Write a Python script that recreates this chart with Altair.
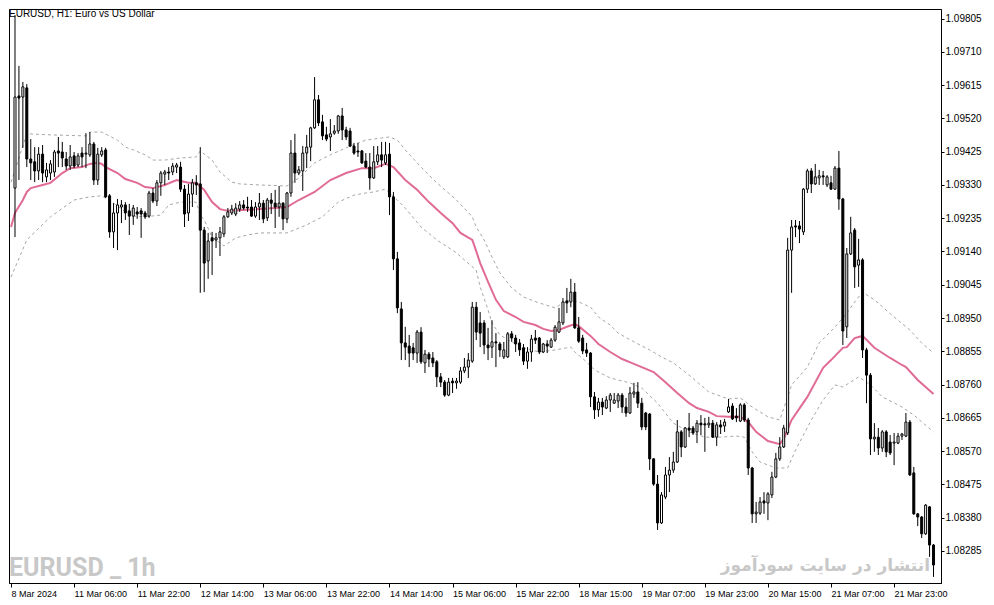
import json
import altair as alt
import pandas as pd

# ---------------- data (hourly EURUSD candles, bar index 1..234) ----------------
bar_index = list(range(1, 235))

open_ = [1.09321,1.09584,1.09581,1.09607,1.09404,1.09396,1.09370,1.09418,1.09353,1.09364,
1.09367,1.09427,1.09424,1.09404,1.09384,1.09413,1.09387,1.09421,1.09418,1.09416,
1.09447,1.09344,1.09416,1.09430,1.09299,1.09196,1.09250,1.09267,1.09273,1.09256,
1.09241,1.09253,1.09256,1.09250,1.09241,1.09307,1.09284,1.09336,1.09361,1.09367,
1.09367,1.09381,1.09381,1.09318,1.09250,1.09304,1.09336,1.09333,1.09201,1.09113,
1.09179,1.09173,1.09179,1.09190,1.09239,1.09250,1.09247,1.09261,1.09273,1.09267,
1.09267,1.09241,1.09267,1.09278,1.09236,1.09287,1.09278,1.09267,1.09278,1.09233,
1.09307,1.09421,1.09364,1.09370,1.09421,1.09438,1.09493,1.09573,1.09510,1.09473,
1.09467,1.09478,1.09484,1.09527,1.09487,1.09484,1.09441,1.09427,1.09427,1.09398,
1.09381,1.09350,1.09396,1.09416,1.09393,1.09418,1.09296,1.09119,1.08976,1.08879,
1.08870,1.08865,1.08850,1.08910,1.08822,1.08847,1.08836,1.08825,1.08782,1.08767,
1.08730,1.08770,1.08765,1.08767,1.08799,1.08810,1.08827,1.08981,1.08936,1.08936,
1.08873,1.08867,1.08882,1.08876,1.08839,1.08839,1.08905,1.08893,1.08879,1.08865,
1.08827,1.08853,1.08893,1.08893,1.08853,1.08876,1.08867,1.08887,1.08910,1.08936,
1.08999,1.08996,1.09024,1.08922,1.08893,1.08859,1.08850,1.08725,1.08688,1.08710,
1.08693,1.08716,1.08707,1.08713,1.08730,1.08696,1.08679,1.08733,1.08739,1.08707,
1.08679,1.08676,1.08548,1.08476,1.08365,1.08439,1.08502,1.08516,1.08539,1.08625,
1.08582,1.08636,1.08636,1.08625,1.08650,1.08648,1.08645,1.08650,1.08610,1.08645,
1.08642,1.08682,1.08699,1.08670,1.08656,1.08702,1.08659,1.08522,1.08391,1.08393,
1.08428,1.08422,1.08445,1.08496,1.08548,1.08582,1.08622,1.09144,1.09213,1.09213,
1.09196,1.09318,1.09370,1.09333,1.09350,1.09356,1.09330,1.09336,1.09318,1.09378,
1.09290,1.08925,1.09133,1.09201,1.09101,1.09116,1.08859,1.08787,1.08605,1.08610,
1.08579,1.08625,1.08596,1.08593,1.08593,1.08613,1.08613,1.08653,1.08508,1.08391,
1.08382,1.08334,1.08411,1.08302]

high = [1.09815,1.09670,1.09624,1.09618,1.09461,1.09438,1.09438,1.09444,1.09393,1.09401,
1.09430,1.09467,1.09453,1.09424,1.09444,1.09424,1.09421,1.09438,1.09478,1.09481,
1.09453,1.09436,1.09438,1.09436,1.09304,1.09278,1.09290,1.09287,1.09281,1.09276,
1.09273,1.09267,1.09264,1.09256,1.09313,1.09321,1.09344,1.09370,1.09373,1.09381,
1.09393,1.09393,1.09396,1.09330,1.09333,1.09347,1.09358,1.09438,1.09210,1.09193,
1.09196,1.09193,1.09210,1.09244,1.09264,1.09273,1.09278,1.09284,1.09287,1.09296,
1.09287,1.09281,1.09307,1.09287,1.09293,1.09307,1.09316,1.09327,1.09281,1.09310,
1.09458,1.09476,1.09384,1.09441,1.09473,1.09496,1.09638,1.09587,1.09530,1.09496,
1.09518,1.09501,1.09530,1.09550,1.09496,1.09493,1.09450,1.09450,1.09430,1.09421,
1.09421,1.09441,1.09441,1.09453,1.09453,1.09450,1.09310,1.09139,1.08996,1.08925,
1.08902,1.08879,1.08916,1.08924,1.08859,1.08853,1.08853,1.08830,1.08793,1.08773,
1.08779,1.08779,1.08779,1.08810,1.08836,1.08850,1.08996,1.08996,1.08967,1.08944,
1.08922,1.08944,1.08907,1.08882,1.08882,1.08910,1.08913,1.08902,1.08890,1.08876,
1.08867,1.08902,1.08916,1.08896,1.08879,1.08887,1.08893,1.08930,1.08979,1.09007,
1.09036,1.09062,1.09050,1.08953,1.08902,1.08879,1.08853,1.08739,1.08722,1.08722,
1.08727,1.08736,1.08736,1.08736,1.08736,1.08722,1.08753,1.08765,1.08767,1.08722,
1.08682,1.08679,1.08550,1.08502,1.08453,1.08525,1.08553,1.08568,1.08659,1.08630,
1.08639,1.08679,1.08642,1.08659,1.08673,1.08665,1.08668,1.08659,1.08653,1.08659,
1.08662,1.08719,1.08707,1.08693,1.08707,1.08707,1.08665,1.08525,1.08425,1.08439,
1.08453,1.08453,1.08511,1.08565,1.08610,1.08645,1.09179,1.09230,1.09230,1.09227,
1.09321,1.09376,1.09378,1.09390,1.09373,1.09370,1.09358,1.09356,1.09384,1.09427,
1.09293,1.09150,1.09239,1.09207,1.09176,1.09121,1.08865,1.08793,1.08650,1.08636,
1.08630,1.08630,1.08616,1.08622,1.08622,1.08622,1.08679,1.08659,1.08525,1.08393,
1.08385,1.08419,1.08413,1.08305]

low = [1.09181,1.09344,1.09436,1.09381,1.09344,1.09338,1.09344,1.09338,1.09338,1.09344,
1.09353,1.09381,1.09381,1.09373,1.09373,1.09378,1.09381,1.09381,1.09378,1.09410,
1.09330,1.09330,1.09410,1.09293,1.09179,1.09150,1.09144,1.09221,1.09230,1.09187,
1.09216,1.09233,1.09179,1.09233,1.09236,1.09278,1.09270,1.09299,1.09330,1.09344,
1.09358,1.09364,1.09310,1.09210,1.09227,1.09267,1.09301,1.09022,1.09024,1.09062,
1.09073,1.09150,1.09127,1.09181,1.09236,1.09244,1.09241,1.09253,1.09259,1.09253,
1.09239,1.09236,1.09230,1.09221,1.09227,1.09247,1.09207,1.09239,1.09201,1.09221,
1.09296,1.09336,1.09358,1.09313,1.09378,1.09398,1.09490,1.09498,1.09458,1.09455,
1.09427,1.09473,1.09476,1.09458,1.09458,1.09438,1.09416,1.09410,1.09390,1.09378,
1.09316,1.09347,1.09387,1.09381,1.09387,1.09244,1.09087,1.08964,1.08830,1.08830,
1.08810,1.08830,1.08822,1.08819,1.08793,1.08810,1.08810,1.08753,1.08753,1.08725,
1.08727,1.08736,1.08748,1.08762,1.08793,1.08779,1.08822,1.08887,1.08867,1.08847,
1.08830,1.08836,1.08810,1.08839,1.08833,1.08836,1.08882,1.08853,1.08842,1.08816,
1.08805,1.08825,1.08876,1.08847,1.08850,1.08850,1.08865,1.08882,1.08907,1.08930,
1.08964,1.08981,1.08919,1.08879,1.08847,1.08839,1.08696,1.08662,1.08668,1.08673,
1.08690,1.08682,1.08705,1.08693,1.08679,1.08668,1.08676,1.08722,1.08693,1.08630,
1.08630,1.08516,1.08471,1.08345,1.08362,1.08433,1.08453,1.08508,1.08536,1.08553,
1.08579,1.08610,1.08616,1.08593,1.08616,1.08568,1.08636,1.08608,1.08585,1.08619,
1.08625,1.08679,1.08659,1.08653,1.08653,1.08653,1.08502,1.08365,1.08365,1.08388,
1.08391,1.08373,1.08436,1.08493,1.08542,1.08579,1.08616,1.09022,1.09181,1.09164,
1.09187,1.09307,1.09307,1.09330,1.09330,1.09330,1.09324,1.09316,1.09316,1.09259,
1.08873,1.08893,1.09130,1.09036,1.09039,1.08836,1.08707,1.08559,1.08568,1.08559,
1.08568,1.08553,1.08559,1.08530,1.08590,1.08602,1.08610,1.08499,1.08388,1.08356,
1.08322,1.08331,1.08268,1.08211]

close = [1.09581,1.09578,1.09610,1.09404,1.09393,1.09370,1.09418,1.09364,1.09373,1.09390,
1.09424,1.09421,1.09407,1.09384,1.09410,1.09384,1.09413,1.09410,1.09421,1.09447,
1.09344,1.09418,1.09427,1.09296,1.09196,1.09250,1.09273,1.09273,1.09250,1.09241,
1.09264,1.09247,1.09247,1.09239,1.09307,1.09284,1.09336,1.09364,1.09367,1.09364,
1.09384,1.09387,1.09318,1.09247,1.09304,1.09336,1.09330,1.09201,1.09107,1.09170,
1.09170,1.09179,1.09196,1.09239,1.09253,1.09261,1.09264,1.09273,1.09264,1.09264,
1.09241,1.09267,1.09278,1.09233,1.09287,1.09278,1.09267,1.09278,1.09233,1.09307,
1.09421,1.09364,1.09373,1.09421,1.09438,1.09493,1.09573,1.09507,1.09470,1.09461,
1.09476,1.09484,1.09527,1.09487,1.09467,1.09441,1.09421,1.09424,1.09393,1.09381,
1.09350,1.09396,1.09416,1.09401,1.09416,1.09296,1.09119,1.08979,1.08879,1.08867,
1.08850,1.08850,1.08910,1.08825,1.08847,1.08833,1.08822,1.08782,1.08767,1.08730,
1.08767,1.08765,1.08770,1.08799,1.08810,1.08830,1.08981,1.08910,1.08907,1.08873,
1.08865,1.08882,1.08879,1.08859,1.08859,1.08905,1.08893,1.08876,1.08859,1.08827,
1.08853,1.08890,1.08887,1.08853,1.08876,1.08870,1.08887,1.08924,1.08939,1.08996,
1.08993,1.09024,1.08922,1.08884,1.08856,1.08850,1.08725,1.08688,1.08710,1.08696,
1.08716,1.08730,1.08716,1.08730,1.08696,1.08679,1.08736,1.08739,1.08707,1.08639,
1.08639,1.08548,1.08476,1.08365,1.08445,1.08502,1.08516,1.08539,1.08625,1.08582,
1.08636,1.08630,1.08622,1.08650,1.08645,1.08645,1.08650,1.08610,1.08645,1.08639,
1.08653,1.08696,1.08662,1.08665,1.08702,1.08659,1.08522,1.08391,1.08396,1.08425,
1.08422,1.08448,1.08496,1.08548,1.08582,1.08636,1.09144,1.09210,1.09210,1.09204,
1.09318,1.09370,1.09333,1.09353,1.09356,1.09353,1.09353,1.09318,1.09378,1.09290,
1.08913,1.09133,1.09193,1.09096,1.09116,1.08859,1.08787,1.08605,1.08610,1.08579,
1.08625,1.08568,1.08565,1.08596,1.08613,1.08619,1.08653,1.08502,1.08391,1.08382,
1.08334,1.08416,1.08302,1.08245]

# Bollinger-style indicator lines
ma_idx = [0,1,3,4,5,8,10,13,15,18,20,22,23,24,27,29,32,34,36,39,42,43,45,47,49,51,53,55,60,63,
67,70,73,77,81,85,89,92,95,97,100,103,106,109,112,114,117,118,119,121,123,125,128,130,133,135,
137,139,141,143,144,147,149,152,155,158,163,166,169,172,174,177,179,182,185,187,189,192,195,196,
198,202,206,208,211,212,214,216,219,223,226,227,230,234]
ma_val = [1.09210,1.09250,1.09287,1.09310,1.09321,1.09330,1.09336,1.09364,1.09378,1.09381,
1.09390,1.09393,1.09390,1.09381,1.09364,1.09347,1.09336,1.09324,1.09321,1.09330,
1.09344,1.09341,1.09336,1.09336,1.09316,1.09281,1.09261,1.09256,1.09259,1.09261,
1.09264,1.09267,1.09287,1.09310,1.09344,1.09364,1.09378,1.09378,1.09390,1.09381,
1.09344,1.09316,1.09281,1.09250,1.09221,1.09193,1.09173,1.09141,1.09107,1.09053,
1.09002,1.08970,1.08953,1.08939,1.08930,1.08919,1.08913,1.08916,1.08925,1.08933,
1.08927,1.08899,1.08876,1.08853,1.08833,1.08819,1.08796,1.08767,1.08736,1.08707,
1.08693,1.08682,1.08670,1.08668,1.08668,1.08653,1.08625,1.08599,1.08590,1.08605,
1.08659,1.08725,1.08808,1.08830,1.08865,1.08867,1.08893,1.08899,1.08865,1.08836,
1.08816,1.08810,1.08773,1.08733]

up_idx = [0,2,4,10,19,20,23,27,29,31,34,36,39,43,47,48,51,53,56,58,63,70,73,77,81,86,90,94,96,98,
100,104,108,113,117,118,120,122,124,127,130,134,138,140,142,144,147,149,152,154,158,162,165,168,
172,177,182,185,188,192,195,197,198,202,205,209,212,214,216,219,224,228,231,234]
up_val = [1.09338,1.09407,1.09476,1.09473,1.09470,1.09481,1.09481,1.09458,1.09438,1.09430,
1.09416,1.09401,1.09401,1.09407,1.09410,1.09427,1.09401,1.09367,1.09338,1.09333,
1.09330,1.09327,1.09350,1.09393,1.09416,1.09441,1.09458,1.09464,1.09467,1.09458,
1.09430,1.09381,1.09336,1.09287,1.09239,1.09210,1.09173,1.09124,1.09079,1.09036,
1.09010,1.08993,1.08979,1.08993,1.09002,1.08996,1.08981,1.08953,1.08930,1.08907,
1.08882,1.08859,1.08839,1.08822,1.08787,1.08739,1.08719,1.08722,1.08696,1.08668,
1.08659,1.08725,1.08759,1.08810,1.08879,1.08924,1.08964,1.08996,1.09024,1.09002,
1.08953,1.08916,1.08879,1.08850]

lo_idx = [0,4,10,16,20,23,26,29,31,34,38,40,43,47,48,49,51,54,57,60,63,70,75,79,83,87,90,92,95,96,
98,100,104,108,113,115,118,119,121,122,124,127,130,134,138,141,142,143,146,148,152,154,157,160,
164,168,172,176,180,184,186,188,190,194,197,199,203,206,209,211,215,218,221,226,229,234]
lo_val = [1.09067,1.09173,1.09239,1.09287,1.09296,1.09299,1.09278,1.09253,1.09241,1.09239,
1.09244,1.09273,1.09281,1.09281,1.09244,1.09230,1.09181,1.09156,1.09179,1.09187,
1.09193,1.09193,1.09216,1.09239,1.09281,1.09301,1.09307,1.09310,1.09318,1.09307,
1.09287,1.09264,1.09210,1.09173,1.09136,1.09116,1.09087,1.09039,1.08973,1.08936,
1.08902,1.08882,1.08865,1.08853,1.08859,1.08865,1.08867,1.08853,1.08825,1.08802,
1.08779,1.08773,1.08765,1.08750,1.08707,1.08650,1.08625,1.08610,1.08610,1.08613,
1.08610,1.08568,1.08539,1.08522,1.08522,1.08573,1.08659,1.08716,1.08759,1.08753,
1.08782,1.08759,1.08725,1.08696,1.08673,1.08625]

x_tick_bars = [0,16,32,48,64,80,96,112,128,144,160,176,192,208,224]
x_tick_labels = ["8 Mar 2024","11 Mar 06:00","11 Mar 22:00","12 Mar 14:00","13 Mar 06:00",
                 "13 Mar 22:00","14 Mar 14:00","15 Mar 06:00","15 Mar 22:00","18 Mar 15:00",
                 "19 Mar 07:00","19 Mar 23:00","20 Mar 15:00","21 Mar 07:00","21 Mar 23:00"]
y_ticks = [1.08285,1.08380,1.08475,1.08570,1.08665,1.08760,1.08855,1.08950,1.09045,
           1.09140,1.09235,1.09330,1.09425,1.09520,1.09615,1.09710,1.09805]

title_text = "EURUSD, H1:  Euro vs US Dollar"
watermark_left = "EURUSD _ 1h"
watermark_right = "انتشار در سایت سودآموز"

# ---------------- chart ----------------
FONT = "Liberation Sans"
candles = pd.DataFrame({"i": bar_index, "o": open_, "h": high, "l": low, "c": close})
ma_df = pd.DataFrame({"i": ma_idx, "v": ma_val})
up_df = pd.DataFrame({"i": up_idx, "v": up_val})
lo_df = pd.DataFrame({"i": lo_idx, "v": lo_val})

x_scale = alt.Scale(domain=[0.75, 234.63], nice=False, zero=False)
y_scale = alt.Scale(domain=[1.081936, 1.098323], nice=False, zero=False)

label_expr = json.dumps(x_tick_labels) + "[round(datum.value / 16)]"
x_axis = alt.Axis(values=x_tick_bars, labelExpr=label_expr, title=None, grid=False,
                  orient="bottom", tickSize=4, tickColor="black", domainColor="black",
                  labelAlign="left", labelBaseline="top", labelPadding=2, labelFontSize=9,
                  labelFont=FONT, labelColor="black", labelFlush=False, labelOverlap=False)
y_axis = alt.Axis(values=y_ticks, format=".5f", title=None, grid=False, orient="right",
                  tickSize=3, tickColor="black", domainColor="black", labelPadding=1,
                  labelFontSize=10, labelFont=FONT, labelColor="black", labelOverlap=False,
                  labelFlush=False)


def X():
    return alt.X("i:Q", scale=x_scale, axis=x_axis)


def Y(field):
    return alt.Y(field, scale=y_scale, axis=y_axis)


wicks = alt.Chart(candles).mark_rule(color="black", strokeWidth=1, clip=True).encode(
    x=X(), y=Y("l:Q"), y2="h:Q")
bodies = alt.Chart(candles).mark_bar(size=2, stroke="black", strokeWidth=1, clip=True).encode(
    x=X(), y=Y("o:Q"), y2="c:Q",
    fill=alt.condition("datum.c > datum.o", alt.value("white"), alt.value("black")))

band_style = dict(color="#a6a6a6", strokeWidth=1, strokeDash=[3, 3], clip=True)
upper = alt.Chart(up_df).mark_line(**band_style).encode(x=X(), y=Y("v:Q"))
lower = alt.Chart(lo_df).mark_line(**band_style).encode(x=X(), y=Y("v:Q"))
middle = alt.Chart(ma_df).mark_line(color="#e06b96", strokeWidth=2, clip=True).encode(
    x=X(), y=Y("v:Q"))

title = alt.Chart(pd.DataFrame({"t": [title_text]})).mark_text(
    align="left", baseline="alphabetic", font=FONT, fontSize=10, color="black").encode(
    text="t:N", x=alt.value(0), y=alt.value(8))
wm_left = alt.Chart(pd.DataFrame({"t": [watermark_left]})).mark_text(
    align="left", baseline="alphabetic", font="Roboto", fontWeight="bold",
    fontSize=25, color="#c8c8c8").encode(text="t:N", x=alt.value(0), y=alt.value(567))
wm_right = alt.Chart(pd.DataFrame({"t": [watermark_right]})).mark_text(
    align="right", baseline="alphabetic", font="DejaVu Sans", fontWeight="bold",
    fontSize=17, color="#c8c8c8").encode(text="t:N", x=alt.value(921), y=alt.value(562))

chart = alt.layer(wm_left, wm_right, upper, lower, middle, wicks, bodies, title).properties(
    width=932, height=574,
    autosize=alt.AutoSizeParams(type="none"),
    padding={"left": 1, "top": 1, "right": 44, "bottom": 22},
    background="white",
).configure_view(stroke="black", strokeWidth=1)

chart.save("out.html", embed_options={"renderer": "svg", "actions": False})
